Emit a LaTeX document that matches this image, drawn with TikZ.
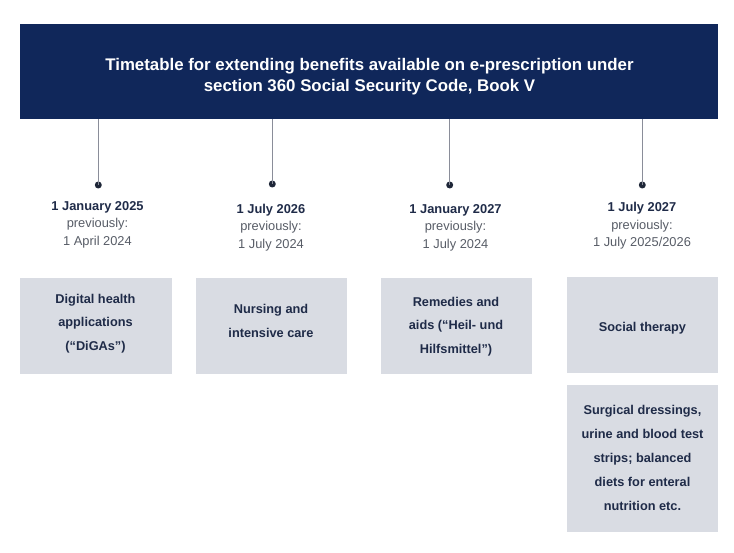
\documentclass[tikz,border=0pt]{standalone}
\usepackage{fontspec}
\setmainfont{Liberation Sans}
\definecolor{navy}{HTML}{10275A}
\definecolor{txtnavy}{HTML}{1F2B48}
\definecolor{prevgray}{HTML}{575C66}
\definecolor{boxgray}{HTML}{D9DCE3}
\definecolor{linegray}{HTML}{8A8D99}
\definecolor{dotcol}{HTML}{1E2638}
\tikzset{
  hdrbox/.style={fill=navy, draw=none, inner sep=0pt, minimum width=697bp, minimum height=95bp},
  titletext/.style={text=white, align=center, inner sep=0pt, font=\bfseries\fontsize{16.9}{20.5}\selectfont},
  tdot/.style={circle, fill=dotcol, draw=none, inner sep=0pt, minimum size=7bp},
  conn/.style={draw=linegray, line width=1.5bp},
  datelabel/.style={align=center, inner sep=0pt, text=prevgray, font=\fontsize{12.9}{17.5}\selectfont},
  itembox/.style={fill=boxgray, draw=none, inner sep=0pt, minimum width=151bp, minimum height=96bp},
  itemtext/.style={align=center, inner sep=0pt, text=txtnavy, font=\bfseries\fontsize{12.8}{24}\selectfont},
}
\newcommand{\dhead}[1]{{\bfseries\color{txtnavy}#1}}
\begin{document}
\begin{tikzpicture}[x=1bp,y=-1bp]
\useasboundingbox (0,0) rectangle (734,553);
\node[hdrbox] (hdr) at (369,71.3) {};
\node[titletext] (title) at (369.5,76.5) {Timetable for extending benefits available on e-prescription under\\section 360 Social Security Code, Book V};
% dots
\node[tdot] (d1) at (98.3,185) {};
\node[tdot] (d2) at (272.3,184) {};
\node[tdot] (d3) at (449.7,185) {};
\node[tdot] (d4) at (642.3,185) {};
\foreach \d in {d1,d2,d3,d4} \draw[conn] (hdr.south -| \d) -- (\d.center);
% date labels
\node[datelabel] (t1) at (97.5,224.5) {\dhead{1 January 2025}\\previously:\\1 April 2024};
\node[datelabel] (t2) at (271,227.5) {\dhead{1 July 2026}\\previously:\\1 July 2024};
\node[datelabel] (t3) at (455.5,227.5) {\dhead{1 January 2027}\\previously:\\1 July 2024};
\node[datelabel] (t4) at (642,226) {\dhead{1 July 2027}\\previously:\\1 July 2025/2026};
% boxes
\node[itembox] (b1) at (96,326) {};
\node[itembox] (b2) at (271,326) {};
\node[itembox] (b3) at (456.5,326) {};
\node[itembox] (b4) at (642.5,325) {};
\node[itembox, minimum height=147bp] (b5) at (642.5,458.5) {};
\node[itemtext] (b1t) at (95.5,323.7) {Digital health\\applications\\(“DiGAs”)};
\node[itemtext] (b2t) at (271,321) {Nursing and\\intensive care};
\node[itemtext] (b3t) at (456,326.7) {Remedies and\\aids (“Heil- und\\Hilfsmittel”)};
\node[itemtext] (b4t) at (642.5,328) {Social therapy};
\node[itemtext] (b5t) at (642.5,458) {Surgical dressings,\\urine and blood test\\strips; balanced\\diets for enteral\\nutrition etc.};
\end{tikzpicture}
\end{document}
